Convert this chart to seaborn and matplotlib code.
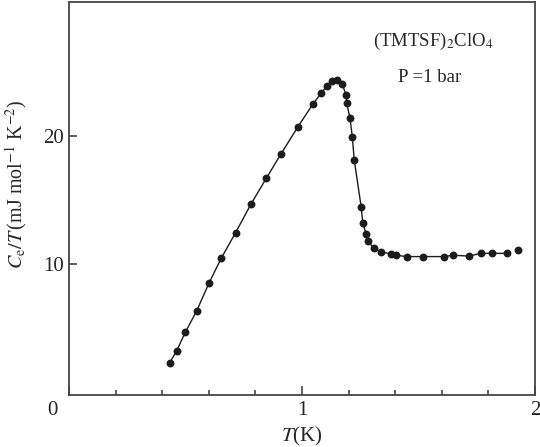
import matplotlib
matplotlib.use("Agg")
import matplotlib.pyplot as plt
import seaborn as sns
import pandas as pd
from matplotlib.ticker import FixedLocator
import matplotlib.transforms as mtransforms

# Data
temperature = [0.432, 0.462, 0.499, 0.548, 0.601, 0.654, 0.715, 0.782, 0.847, 0.910,
               0.983, 1.046, 1.082, 1.106, 1.129, 1.150, 1.172, 1.190, 1.192, 1.206,
               1.216, 1.224, 1.254, 1.261, 1.275, 1.285, 1.307, 1.339, 1.381, 1.403,
               1.451, 1.521, 1.609, 1.648, 1.717, 1.768, 1.817, 1.880, 1.928]
ce_over_t = [2.35, 3.28, 4.71, 6.38, 8.55, 10.49, 12.46, 14.71, 16.69, 18.58,
             20.70, 22.43, 23.29, 23.84, 24.28, 24.34, 24.05, 23.12, 22.50, 21.37,
             19.90, 18.14, 14.46, 13.19, 12.36, 11.80, 11.24, 10.98, 10.80, 10.70,
             10.60, 10.60, 10.60, 10.70, 10.64, 10.85, 10.85, 10.85, 11.09]
x_tick_labels = ["0", "1", "2"]
y_tick_values = [10, 20]

df = pd.DataFrame({"T": temperature, "C": ce_over_t})
df_line = df.iloc[:-1]

sns.set_style("ticks")
plt.rcParams["font.family"] = ["Liberation Serif", "DejaVu Serif"]
plt.rcParams["mathtext.fontset"] = "stix"

fig = plt.figure(figsize=(5.4, 4.47), dpi=100)
ax = fig.add_axes([0.1278, 0.1174, 0.8629, 0.8786])

ink = "#1c1c1c"
sns.lineplot(data=df_line, x="T", y="C", sort=False, estimator=None,
             color=ink, linewidth=1.0, ax=ax)
sns.scatterplot(data=df, x="T", y="C", color=ink, s=32, edgecolor=ink,
                linewidth=0, ax=ax, zorder=3)

ax.set_xlim(0, 2)
ax.set_ylim(-0.12, 30.4)

ax.xaxis.set_major_locator(FixedLocator([0, 1, 2]))
ax.set_xticklabels(x_tick_labels)
ax.xaxis.set_minor_locator(FixedLocator([0.2, 0.4, 0.6, 0.8, 1.2, 1.4, 1.6, 1.8]))
ax.set_yticks(y_tick_values)
ax.set_yticklabels([str(v) for v in y_tick_values])

ax.tick_params(axis="x", which="major", direction="in", length=6.5, width=1.2,
               labelsize=15, pad=5, color="#444444")
ax.tick_params(axis="x", which="minor", direction="in", length=3.5, width=1.2,
               color="#444444")
ax.tick_params(axis="y", which="major", direction="in", length=6, width=1.2,
               labelsize=15, pad=4, color="#444444")

# shift the "0" label left of the origin
offset = mtransforms.ScaledTranslation(-17 / 100, 0, fig.dpi_scale_trans)
lbl0 = ax.get_xticklabels()[0]
lbl0.set_transform(lbl0.get_transform() + offset)

for sp in ax.spines.values():
    sp.set_linewidth(1.3)
    sp.set_color("#444444")
    sp.set_visible(True)

ax.set_xlabel(r"$T$(K)", fontsize=15)
ax.xaxis.set_label_coords(0.5, -0.078)
ax.set_ylabel(r"$C_{\mathrm{e}}/T\,$(mJ mol$^{-1}$ K$^{-2}$)", fontsize=14.5)
ax.yaxis.set_label_coords(-0.086, 0.535)

ax.text(0.652, 0.888, r"(TMTSF)$_2$ClO$_4$", transform=ax.transAxes,
        fontsize=13.5, ha="left", va="baseline")
ax.text(0.706, 0.797, "P =1 bar", transform=ax.transAxes,
        fontsize=13.5, ha="left", va="baseline")

fig.savefig("out.png", dpi=100)
